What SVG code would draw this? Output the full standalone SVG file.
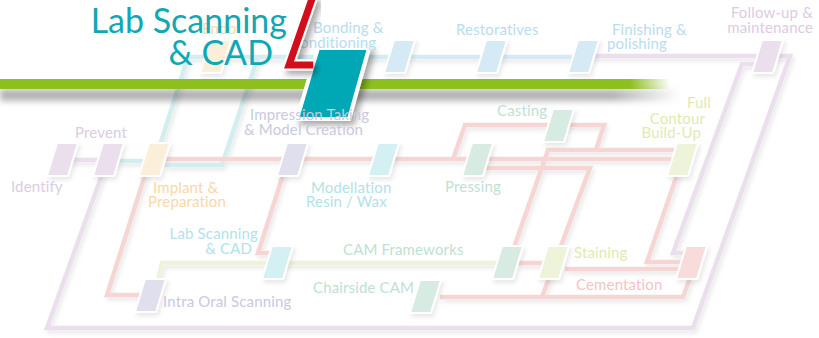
<svg xmlns="http://www.w3.org/2000/svg" xmlns:xlink="http://www.w3.org/1999/xlink" width="819" height="338" viewBox="0 0 819 338">
<defs>
<style>
.t{font-family:Lato,"Open Sans","Liberation Sans",sans-serif;font-size:15px;letter-spacing:0.15px}
.tl{fill:#dccbe3}.to{fill:#f8d8a6}.ti{fill:#c9c9df}.tt{fill:#b2e2e8}.tg{fill:#c1dfd2}.ty{fill:#dfeab3}.tb{fill:#badcef}.tp{fill:#f3c4c4}
.n{stroke:#fff;stroke-width:2;filter:url(#sh)}
.nl{fill:#ebdfee}.no{fill:#fcefd9}.ni{fill:#dfdfed}.nt{fill:#d5f0f2}.ng{fill:#d7ebe2}.ny{fill:#eef4d9}.nb{fill:#d6eaf6}.np{fill:#f8dcdc}
.c{fill:none;stroke-width:4.5;stroke-linejoin:miter}
.cl{stroke:#ebdfee}.ct{stroke:#d3eef1}.cb{stroke:#d6eaf5}.cp{stroke:#f6d6d4}.cy{stroke:#edf2da}
.title{font-family:Lato,"Open Sans",sans-serif;font-size:34px;fill:#12a7b3}
</style>
<path id="nd" d="M10,0H31L21,33H0Z"/>
<filter id="sh" x="-30%" y="-30%" width="160%" height="160%"><feDropShadow dx="2" dy="3" stdDeviation="2" flood-color="#000" flood-opacity="0.09"/></filter>
<filter id="sh2" x="-30%" y="-30%" width="160%" height="160%"><feDropShadow dx="4" dy="4" stdDeviation="3" flood-color="#000" flood-opacity="0.35"/></filter>
<filter id="bl" x="-5%" y="-100%" width="110%" height="300%"><feGaussianBlur stdDeviation="3"/></filter>
<linearGradient id="gb" x1="0" x2="1" y1="0" y2="0"><stop offset="0.94" stop-color="#8dbf1f"/><stop offset="1" stop-color="#8dbf1f" stop-opacity="0"/></linearGradient>
<linearGradient id="gs" x1="0" x2="1" y1="0" y2="0"><stop offset="0.9" stop-color="#000" stop-opacity="0.3"/><stop offset="1" stop-color="#000" stop-opacity="0"/></linearGradient>
</defs>
<rect width="819" height="338" fill="#fff"/>
<g id="connectors" filter="url(#sh)">
<path class="c cl" d="M62,160H108"/>
<path class="c cl" d="M103,172L47,328H693L790,56H590"/>
<path class="c cl" d="M765,64H742L673,253H686"/>
<path class="c ct" d="M110,161H152"/>
<path class="c ct" d="M160,145L188,57H398"/>
<path class="c ct" d="M165,165H222L258,57"/>
<path class="c cb" d="M398,57H590"/>
<path class="c cp" d="M155,159H682"/>
<path class="c cp" d="M453,159L465,125H604L596,150"/>
<path class="c cp" d="M682,150H548L511,256"/>
<path class="c cp" d="M485,168H590L542,297"/>
<path class="c cp" d="M440,297H683L690,278"/>
<path class="c cp" d="M518,263H548"/>
<path class="c cp" d="M565,269H684"/>
<path class="c cp" d="M678,172L647,262H684"/>
<path class="c cp" d="M146,172L107,295H145"/>
<path class="c cp" d="M284,172L258,253H272"/>
<path class="c cy" d="M157,285L162,263H500"/>
</g>
<g id="banner">
<rect x="0" y="89" width="680" height="12" fill="url(#gs)" filter="url(#bl)"/>
<rect x="0" y="79" width="670" height="10" fill="url(#gb)"/>
<polygon id="highlight" points="318,48 369,48 349,119 297,119" fill="#00a8b5" stroke="#fff" stroke-width="4" filter="url(#sh2)"/>
</g>
<g id="nodes">
<g id="identify"><use xlink:href="#nd" class="n nl" x="47" y="143"/><text class="t tl" x="11" y="192">Identify</text></g>
<g id="prevent"><use xlink:href="#nd" class="n nl" x="93" y="143"/><text class="t tl" x="75" y="138">Prevent</text></g>
<g id="implant"><use xlink:href="#nd" class="n no" x="139" y="143"/><text class="t to" x="153" y="193">Implant &amp;</text><text class="t to" x="148" y="207">Preparation</text></g>
<g id="impression"><use xlink:href="#nd" class="n ni" x="277" y="143"/><text class="t ti" x="250" y="120">Impression Taking</text><text class="t ti" x="244" y="135">&amp; Model Creation</text></g>
<g id="modellation"><use xlink:href="#nd" class="n nt" x="368" y="143"/><text class="t tt" x="311" y="193">Modellation</text><text class="t tt" x="306" y="207">Resin / Wax</text></g>
<g id="pressing"><use xlink:href="#nd" class="n ng" x="462" y="143"/><text class="t tg" x="445" y="192">Pressing</text></g>
<g id="casting"><use xlink:href="#nd" class="n ng" x="543" y="109"/><text class="t tg" x="497" y="116">Casting</text></g>
<g id="fullcontour"><use xlink:href="#nd" class="n ny" x="667" y="143"/><text class="t ty" x="711" y="108" text-anchor="end">Full</text><text class="t ty" x="705" y="124" text-anchor="end">Contour</text><text class="t ty" x="701" y="138" text-anchor="end">Build-Up</text></g>
<g id="endo"><use xlink:href="#nd" class="n no" x="200" y="40"/><text class="t to" x="202" y="34">Endo</text></g>
<g id="bonding"><use xlink:href="#nd" class="n nb" x="384" y="40"/><text class="t tb" x="313" y="33">Bonding &amp;</text><text class="t tb" x="290" y="48">Conditioning</text></g>
<g id="restoratives"><use xlink:href="#nd" class="n nb" x="476" y="40"/><text class="t tb" x="456" y="35">Restoratives</text></g>
<g id="finishing"><use xlink:href="#nd" class="n nb" x="568" y="40"/><text class="t tb" x="612" y="35">Finishing &amp;</text><text class="t tb" x="607" y="49">polishing</text></g>
<g id="followup"><use xlink:href="#nd" class="n nl" x="752" y="40"/><text class="t tl" x="813" y="18" text-anchor="end">Follow-up &amp;</text><text class="t tl" x="813" y="33" text-anchor="end">maintenance</text></g>
<g id="labscan"><use xlink:href="#nd" class="n nt" x="262" y="246"/><text class="t tt" x="258" y="239" text-anchor="end">Lab Scanning</text><text class="t tt" x="252" y="254" text-anchor="end">&amp; CAD</text></g>
<g id="intraoral"><use xlink:href="#nd" class="n ni" x="135" y="279"/><text class="t ti" x="163" y="307">Intra Oral Scanning</text></g>
<g id="chairside"><use xlink:href="#nd" class="n ng" x="410" y="280"/><text class="t tg" x="313" y="293">Chairside CAM</text></g>
<g id="camframeworks"><use xlink:href="#nd" class="n ng" x="492" y="246"/><text class="t tg" x="343" y="255">CAM Frameworks</text></g>
<g id="staining"><use xlink:href="#nd" class="n ny" x="538" y="246"/><text class="t ty" x="574" y="258">Staining</text></g>
<g id="cementation"><use xlink:href="#nd" class="n np" x="676" y="246"/><text class="t tp" x="576" y="290">Cementation</text></g>
</g>
<g id="title">
<text class="title" x="287" y="33" text-anchor="end">Lab Scanning</text>
<text class="title" x="273" y="65" text-anchor="end">&amp; CAD</text>
<g filter="url(#sh2)">
<path d="M313,-4L289,65H313" fill="none" stroke="#fff" stroke-width="11" stroke-linejoin="miter"/>
<path d="M313,-4L289,65H313" fill="none" stroke="#d2111b" stroke-width="7" stroke-linejoin="miter"/>
</g>
</g>
</svg>
